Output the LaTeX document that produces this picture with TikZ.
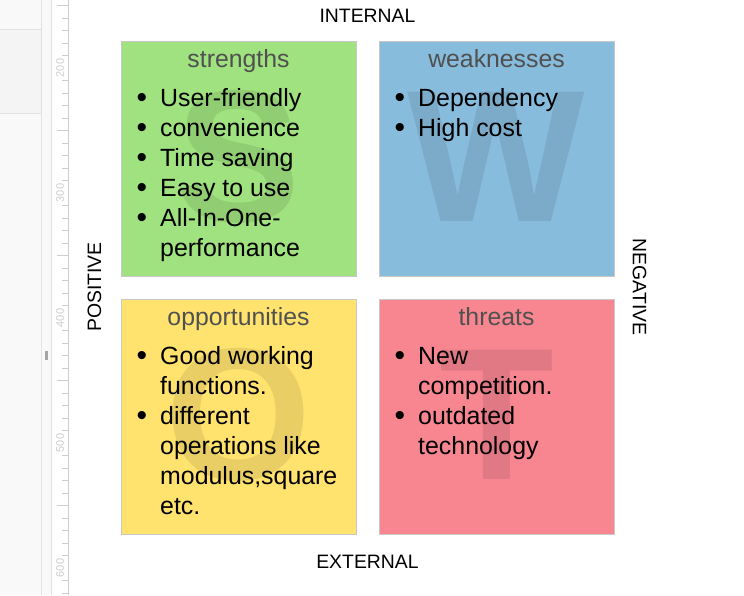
\documentclass[tikz,border=0pt]{standalone}
\usepackage{fontspec}
\setmainfont{Liberation Sans}
\usetikzlibrary{calc}
\usetikzlibrary{positioning}

\definecolor{swotgreen}{RGB}{160,226,127}
\definecolor{swotblue}{RGB}{136,188,220}
\definecolor{swotyellow}{RGB}{255,227,110}
\definecolor{swotred}{RGB}{247,134,144}
\definecolor{quadborder}{RGB}{200,200,200}
\definecolor{titlegray}{RGB}{80,80,80}
\definecolor{panelgray}{RGB}{249,249,249}
\definecolor{paneldark}{RGB}{244,244,244}
\definecolor{panelline}{RGB}{226,226,226}
\definecolor{rulergray}{RGB}{205,205,205}

\newcommand{\swotbullet}{\raisebox{-1pt}{\fontsize{30}{30}\selectfont\textbullet}}
\newcommand{\swotlist}[1]{\begin{tabular}[t]{@{}p{23.5pt}@{}l@{}}#1\end{tabular}}

\begin{document}
\begin{tikzpicture}[x=1pt, y=-1pt,
    quad/.style={draw=quadborder, line width=1pt, minimum width=235pt, minimum height=235pt, inner sep=0pt},
    bigletter/.style={font=\fontsize{188}{188}\selectfont\bfseries, text=black, text opacity=0.09, inner sep=0pt},
    quadtitle/.style={anchor=base, font=\fontsize{24.8}{30}\selectfont, text=titlegray, inner sep=0pt},
    itemlist/.style={anchor=base west, font=\fontsize{24.9}{30}\selectfont, inner sep=0pt},
    axislabel/.style={font=\fontsize{19.4}{23}\selectfont, inner sep=0pt},
    rulerlabel/.style={font=\fontsize{11}{12}\selectfont, text=rulergray, inner sep=0pt, rotate=90},
    rulertick/.style={draw=rulergray, line width=0.8pt}]
        \useasboundingbox (0,0) rectangle (744,595);
        \fill[white] (0,0) rectangle (744,595);

        % Side panel and ruler of the editor
        \fill[panelgray] (0,0) rectangle (51,595);
        \fill[paneldark] (0,29) rectangle (41,113);
        \draw[panelline] (0,29) -- (41,29);
        \draw[panelline] (0,113) -- (41,113);
        \draw[panelline] (41,0) -- (41,595);
        \draw[panelline] (51,0) -- (51,595);
        \draw[rulergray] (68,0) -- (68,595);
        \fill[gray!70] (45,351) rectangle (48,360);
        \foreach \v in {150,160,...,620}{
            \pgfmathsetmacro{\ty}{68+(\v-200)*1.25}
            \pgfmathsetmacro{\tlen}{ifthenelse(mod(\v,100)==0,0,ifthenelse(mod(\v,50)==0,11,6))}
            \draw[rulertick] (68,\ty) -- ++(-\tlen,0);
        }
        \foreach \v in {200,300,...,600}
            \node[rulerlabel] (ruler\v) at (60,{68+(\v-200)*1.25}) {\v};

        % The four quadrants
        \node[quad, fill=swotgreen] (strengths) at (238.5,158.5) {};
        \node[quad, fill=swotblue, right=22pt of strengths] (weaknesses) {};
        \node[quad, fill=swotyellow, below=22pt of strengths] (opportunities) {};
        \node[quad, fill=swotred, right=22pt of opportunities] (threats) {};

        % Big letters behind the text
        \node[bigletter] (letterS) at ($(strengths.center)+(0,-2)$) {S};
        \node[bigletter] (letterW) at ($(weaknesses.center)+(0,-2)$) {W};
        \node[bigletter] (letterO) at ($(opportunities.center)+(0,-2)$) {O};
        \node[bigletter] (letterT) at ($(threats.center)+(0,-2)$) {T};

        % Titles
        \node[quadtitle] (titleS) at ($(strengths.north)+(0,27)$) {strengths};
        \node[quadtitle] (titleW) at ($(weaknesses.north)+(0,27)$) {weaknesses};
        \node[quadtitle] (titleO) at ($(opportunities.north)+(0,27)$) {opportunities};
        \node[quadtitle] (titleT) at ($(threats.north)+(0,27)$) {threats};

        % Bullet lists
        \node[itemlist] (listS) at ($(strengths.north west)+(16,66)$) {\swotlist{
            \swotbullet & User-friendly\\
            \swotbullet & convenience\\
            \swotbullet & Time saving\\
            \swotbullet & Easy to use\\
            \swotbullet & All-In-One-\\
                        & performance}};
        \node[itemlist] (listW) at ($(weaknesses.north west)+(16,66)$) {\swotlist{
            \swotbullet & Dependency\\
            \swotbullet & High cost}};
        \node[itemlist] (listO) at ($(opportunities.north west)+(16,66)$) {\swotlist{
            \swotbullet & Good working\\
                        & functions.\\
            \swotbullet & different\\
                        & operations like\\
                        & modulus,square\\
                        & etc.}};
        \node[itemlist] (listT) at ($(threats.north west)+(16,66)$) {\swotlist{
            \swotbullet & New\\
                        & competition.\\
            \swotbullet & outdated\\
                        & technology}};

        % Axis labels
        \node[axislabel, anchor=base] (internal) at (367.5,22) {INTERNAL};
        \node[axislabel, anchor=base] (external) at (367.5,568) {EXTERNAL};
        \node[axislabel, rotate=90] (positive) at (94.5,287) {POSITIVE};
        \node[axislabel, rotate=-90] (negative) at (639.5,287) {NEGATIVE};
    \end{tikzpicture}
\end{document}
